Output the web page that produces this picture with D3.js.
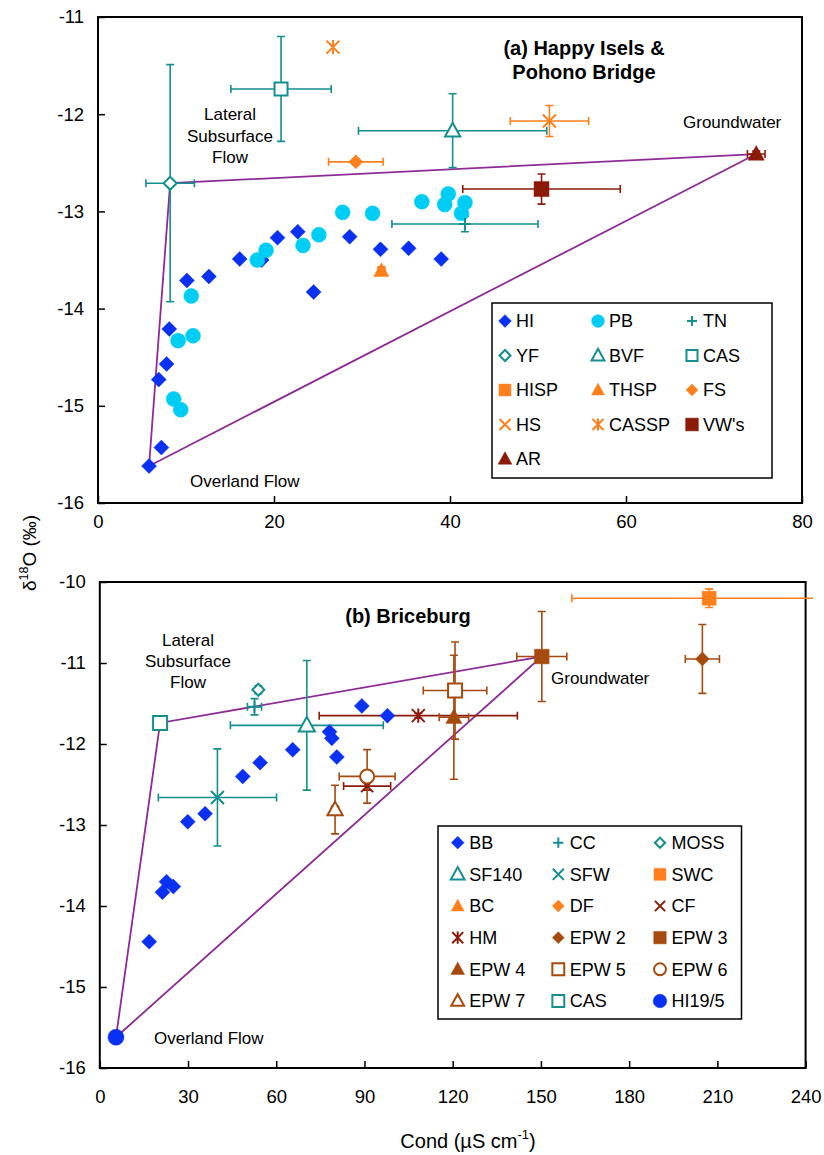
<!DOCTYPE html>
<html>
<head>
<meta charset="utf-8">
<script src="https://cdn.jsdelivr.net/npm/d3@7"></script>
<style>
  body { margin: 0; background: #fff; }
  text { font-family: "Liberation Sans", Arial, sans-serif; }
</style>
</head>
<body>
<svg id="chart" width="824" height="1155"></svg>
<script>
// ---- data: [cond, d18O] or [cond, d18O, condErr, d18OErr]

// (a) Happy Isles & Pohono Bridge
const hiA = [
  [5.8, -15.62], [7.2, -15.43], [6.9, -14.73], [7.8, -14.57], [8.1, -14.21],
  [10.1, -13.71], [12.6, -13.67], [16.1, -13.49], [18.6, -13.5], [20.4, -13.27],
  [22.7, -13.21], [24.5, -13.83], [28.6, -13.26], [32.1, -13.39], [35.3, -13.38], [39.0, -13.49]
]
const pbA = [
  [10.6, -13.87], [9.1, -14.33], [10.8, -14.28], [8.6, -14.93], [9.4, -15.04],
  [18.1, -13.5], [19.1, -13.4], [23.3, -13.35], [25.1, -13.24], [27.8, -13.01],
  [31.2, -13.02], [36.8, -12.9], [39.4, -12.93], [39.8, -12.82], [41.7, -12.91], [41.3, -13.02]
]
const tnA = [[41.7, -13.13, 8.3, 0.08]]
const yfA = [[8.2, -12.71, 2.75, 1.22]]
const bvfA = [[40.3, -12.17, 10.7, 0.38]]
const casA = [[20.8, -11.74, 5.7, 0.54]]
const hispA = []
const thspA = [[32.2, -13.61, 0.4, 0.04]]
const fsA = [[29.3, -12.49, 3.1, 0.03]]
const hsA = [[51.3, -12.07, 4.45, 0.16]]
const casspA = [[26.7, -11.31]]
const vwA = [[50.4, -12.77, 8.95, 0.155]]
const arA = [[74.8, -12.41, 1.0, 0.03]]

// (b) Briceburg
const bbB = [
  [89.1, -11.53], [97.8, -11.65], [78.1, -11.85], [78.9, -11.93], [80.6, -12.16],
  [65.6, -12.07], [54.5, -12.23], [48.6, -12.4], [35.8, -12.86], [29.9, -12.96],
  [22.7, -13.7], [25.0, -13.76], [21.3, -13.83], [16.8, -14.44]
]
const ccB = [[52.6, -11.54, 2.4, 0.1]]
const mossB = [[53.9, -11.33, 0.8, 0.05]]
const sf140B = [[70.4, -11.77, 26, 0.8]]
const sfwB = [[40.0, -12.66, 20.1, 0.6]]
const swcB = [[207.2, -10.2, 46.7, 0.115]]
const bcB = []
const dfB = []
const cfB = [[90.9, -12.52, 8.0, 0.05]]
const hmB = [[108.3, -11.65, 33.7, 0.03]]
const epw2B = [[204.9, -10.95, 5.8, 0.425]]
const epw3B = [[150.3, -10.92, 8.5, 0.555]]
const epw4B = [[120.4, -11.67, 5.0, 0.765]]
const epw5B = [[120.8, -11.34, 10.8, 0.6]]
const epw6B = [[90.9, -12.4, 9.5, 0.33]]
const epw7B = [[80.0, -12.81, 1.2, 0.3]]
const casB = [[20.5, -11.74]]
const hi195B = [[5.5, -15.62]]

// tick values
const xTicksA = [0, 20, 40, 60, 80]
const yTicksA = [-16, -15, -14, -13, -12, -11]
const xTicksB = [0, 30, 60, 90, 120, 150, 180, 210, 240]
const yTicksB = [-16, -15, -14, -13, -12, -11, -10]

// ---- styling
const BLUE = "#0a30f2", CYAN = "#00cdf3", TEAL = "#138f8f", ORANGE = "#ff7f1c"
const DKRED = "#8c1a08", BROWN = "#a64a0e", PURPLE = "#8f2b97"

const seriesA = [
  { name: "HI", pts: hiA, shape: "diamond", color: BLUE, fill: true, r: 7.5 },
  { name: "PB", pts: pbA, shape: "circle", color: CYAN, fill: true, r: 7.5 },
  { name: "TN", pts: tnA, shape: "plus", color: TEAL, r: 6 },
  { name: "YF", pts: yfA, shape: "diamond", color: TEAL, fill: false, r: 6.5 },
  { name: "BVF", pts: bvfA, shape: "triangle", color: TEAL, fill: false, r: 8 },
  { name: "CAS", pts: casA, shape: "square", color: TEAL, fill: false, r: 6.5 },
  { name: "HISP", pts: hispA, shape: "square", color: ORANGE, fill: true, r: 7 },
  { name: "THSP", pts: thspA, shape: "triangle", color: ORANGE, fill: true, r: 8 },
  { name: "FS", pts: fsA, shape: "diamond", color: ORANGE, fill: true, r: 7 },
  { name: "HS", pts: hsA, shape: "x", color: ORANGE, r: 6.5 },
  { name: "CASSP", pts: casspA, shape: "asterisk", color: ORANGE, r: 6.5 },
  { name: "VW's", pts: vwA, shape: "square", color: DKRED, fill: true, r: 7.5 },
  { name: "AR", pts: arA, shape: "triangle", color: DKRED, fill: true, r: 8.5 },
]

const seriesB = [
  { name: "BB", pts: bbB, shape: "diamond", color: BLUE, fill: true, r: 7.5 },
  { name: "CC", pts: ccB, shape: "plus", color: TEAL, r: 6 },
  { name: "MOSS", pts: mossB, shape: "diamond", color: TEAL, fill: false, r: 6 },
  { name: "SF140", pts: sf140B, shape: "triangle", color: TEAL, fill: false, r: 8.5 },
  { name: "SFW", pts: sfwB, shape: "x", color: TEAL, r: 6.5 },
  { name: "SWC", pts: swcB, shape: "square", color: ORANGE, fill: true, r: 7 },
  { name: "BC", pts: bcB, shape: "triangle", color: ORANGE, fill: true, r: 8 },
  { name: "DF", pts: dfB, shape: "diamond", color: ORANGE, fill: true, r: 7 },
  { name: "CF", pts: cfB, shape: "x", color: DKRED, r: 6 },
  { name: "HM", pts: hmB, shape: "asterisk", color: DKRED, r: 6.5 },
  { name: "EPW 2", pts: epw2B, shape: "diamond", color: BROWN, fill: true, r: 7 },
  { name: "EPW 3", pts: epw3B, shape: "square", color: BROWN, fill: true, r: 7.3 },
  { name: "EPW 4", pts: epw4B, shape: "triangle", color: BROWN, fill: true, r: 8.5 },
  { name: "EPW 5", pts: epw5B, shape: "square", color: BROWN, fill: false, r: 7 },
  { name: "EPW 6", pts: epw6B, shape: "circle", color: BROWN, fill: false, r: 7 },
  { name: "EPW 7", pts: epw7B, shape: "triangle", color: BROWN, fill: false, r: 8 },
  { name: "CAS", pts: casB, shape: "square", color: TEAL, fill: false, r: 7 },
  { name: "HI19/5", pts: hi195B, shape: "circle", color: BLUE, fill: true, r: 8 },
]

const svg = d3.select("#chart")

function symbolPath(shape, r) {
  switch (shape) {
    case "diamond": return `M0,${-r}L${r},0L0,${r}L${-r},0Z`
    case "square": return `M${-r},${-r}H${r}V${r}H${-r}Z`
    case "triangle": return `M0,${-r}L${r * 0.95},${r * 0.72}L${-r * 0.95},${r * 0.72}Z`
    case "circle": return `M${r},0A${r},${r},0,1,1,${-r},0A${r},${r},0,1,1,${r},0Z`
    case "plus": return `M${-r},0H${r}M0,${-r}V${r}`
    case "x": return `M${-r},${-r}L${r},${r}M${-r},${r}L${r},${-r}`
    case "asterisk": return `M${-r},${-r}L${r},${r}M${-r},${r}L${r},${-r}M0,${-r * 1.1}V${r * 1.1}`
  }
}

function styleMarker(sel, s) {
  const lineOnly = ["plus", "x", "asterisk"].includes(s.shape)
  sel
    .attr("fill", lineOnly ? "none" : s.fill ? s.color : "#fff")
    .attr("stroke", s.color)
    .attr("stroke-width", lineOnly || !s.fill ? 2 : 0.5)
}

function drawPanel(p) {
  const x = d3.scaleLinear().domain([p.xTicks[0], p.xTicks[p.xTicks.length - 1]]).range([p.left, p.right])
  const y = d3.scaleLinear().domain([p.yTicks[0], p.yTicks[p.yTicks.length - 1]]).range([p.bottom, p.top])
  const g = svg.append("g")

  const xAxis = g.append("g")
    .attr("transform", `translate(0,${p.bottom})`)
    .call(d3.axisBottom(x).tickValues(p.xTicks).tickSizeInner(-7).tickSizeOuter(0)
      .tickPadding(p.xPad).tickFormat((d) => String(d)))
  const yAxis = g.append("g")
    .attr("transform", `translate(${p.left},0)`)
    .call(d3.axisLeft(y).tickValues(p.yTicks).tickSizeInner(-7).tickSizeOuter(0)
      .tickPadding(14).tickFormat((d) => String(d)))
  ;[xAxis, yAxis].forEach((a) => {
    a.select(".domain").remove()
    a.attr("font-size", 18.5).attr("font-family", '"Liberation Sans", Arial, sans-serif')
    a.selectAll("line").attr("stroke-width", 1.5)
    a.selectAll("text").attr("fill", "#000")
  })

  g.append("rect")
    .attr("x", p.left).attr("y", p.top)
    .attr("width", p.right - p.left).attr("height", p.bottom - p.top)
    .attr("fill", "none").attr("stroke", "#000").attr("stroke-width", 2)

  const clipId = "clip" + p.id
  svg.append("clipPath").attr("id", clipId)
    .append("rect").attr("x", 0).attr("y", p.top - 20)
    .attr("width", p.clipRight).attr("height", p.bottom - p.top + 40)
  const plot = g.append("g").attr("clip-path", `url(#${clipId})`)

  // mixing triangle between end members
  plot.append("path")
    .datum([...p.mix, p.mix[0]])
    .attr("d", d3.line().x((d) => x(d[0])).y((d) => y(d[1])))
    .attr("fill", "none").attr("stroke", PURPLE).attr("stroke-width", 1.8)

  // error bars
  const cap = 4
  p.series.forEach((s) => {
    s.pts.filter((d) => d.length > 2).forEach((d) => {
      const eb = plot.append("g").attr("stroke", s.color).attr("stroke-width", 1.6).attr("fill", "none")
      const cx = x(d[0]), cy = y(d[1])
      if (d[2] > 0) {
        const x0 = x(d[0] - d[2]), x1 = x(d[0] + d[2])
        eb.append("path").attr("d", `M${x0},${cy}H${x1}M${x0},${cy - cap}V${cy + cap}M${x1},${cy - cap}V${cy + cap}`)
      }
      if (d[3] > 0) {
        const y0 = y(d[1] - d[3]), y1 = y(d[1] + d[3])
        eb.append("path").attr("d", `M${cx},${y0}V${y1}M${cx - cap},${y0}H${cx + cap}M${cx - cap},${y1}H${cx + cap}`)
      }
    })
  })

  // markers
  p.series.forEach((s) => {
    plot.selectAll(null)
      .data(s.pts)
      .join("path")
      .attr("transform", (d) => `translate(${x(d[0])},${y(d[1])})`)
      .attr("d", symbolPath(s.shape, s.r))
      .call(styleMarker, s)
  })

  // legend
  const lg = p.legend
  g.append("rect")
    .attr("x", lg.x).attr("y", lg.y).attr("width", lg.w).attr("height", lg.h)
    .attr("fill", "#fff").attr("stroke", "#000").attr("stroke-width", 1.5)
  const items = g.selectAll(null)
    .data(p.series)
    .join("g")
    .attr("transform", (s, i) => `translate(${lg.x + lg.colX[i % 3]},${lg.y + lg.row0 + Math.floor(i / 3) * lg.rowStep})`)
  items.append("path")
    .attr("d", (s) => symbolPath(s.shape, s.r * 0.85))
    .each(function (s) { d3.select(this).call(styleMarker, s) })
  items.append("text")
    .attr("x", lg.textDx).attr("dy", "0.35em")
    .attr("font-size", 18).text((s) => s.name)

  // annotations
  p.notes.forEach((n) => {
    const t = g.append("text")
      .attr("x", n.x).attr("y", n.y)
      .attr("text-anchor", n.anchor || "start")
      .attr("font-size", n.bold ? 20 : 17)
      .attr("font-weight", n.bold ? "bold" : "normal")
    n.lines.forEach((line, i) => {
      t.append("tspan").attr("x", n.x).attr("dy", i === 0 ? 0 : n.lh).text(line)
    })
  })
}

drawPanel({
  id: "A", left: 98, right: 802, top: 17, bottom: 503, xPad: 12, clipRight: 824,
  xTicks: xTicksA, yTicks: yTicksA, series: seriesA,
  mix: [hiA[0], yfA[0], arA[0]],
  legend: { x: 492, y: 303, w: 280, h: 175, row0: 18, rowStep: 34.5, colX: [13, 106, 200], textDx: 11 },
  notes: [
    { x: 584, y: 55, lines: ["(a) Happy Isels &", "Pohono Bridge"], lh: 24, anchor: "middle", bold: true },
    { x: 230, y: 120, lines: ["Lateral", "Subsurface", "Flow"], lh: 21.5, anchor: "middle" },
    { x: 683, y: 128, lines: ["Groundwater"] },
    { x: 190, y: 487, lines: ["Overland Flow"] },
  ],
})

drawPanel({
  id: "B", left: 99.8, right: 805.6, top: 582, bottom: 1068, xPad: 22, clipRight: 813,
  xTicks: xTicksB, yTicks: yTicksB, series: seriesB,
  mix: [hi195B[0], casB[0], epw3B[0]],
  legend: { x: 438, y: 826, w: 303.5, h: 193, row0: 16.7, rowStep: 31.65, colX: [19.7, 120.3, 222], textDx: 11.5 },
  notes: [
    { x: 408, y: 623, lines: ["(b) Briceburg"], anchor: "middle", bold: true },
    { x: 188, y: 646, lines: ["Lateral", "Subsurface", "Flow"], lh: 21, anchor: "middle" },
    { x: 551, y: 684, lines: ["Groundwater"] },
    { x: 154, y: 1044, lines: ["Overland Flow"] },
  ],
})

// axis titles
const yLab = svg.append("text")
  .attr("transform", "translate(36,553) rotate(-90)")
  .attr("text-anchor", "middle").attr("font-size", 19)
yLab.append("tspan").text("δ")
yLab.append("tspan").attr("font-size", 12.5).attr("dy", -8).text("18")
yLab.append("tspan").attr("dy", 8).text("O (‰)")

const xLab = svg.append("text")
  .attr("x", 468).attr("y", 1148)
  .attr("text-anchor", "middle").attr("font-size", 20)
xLab.append("tspan").text("Cond (µS cm")
xLab.append("tspan").attr("font-size", 13).attr("dy", -9).text("-1")
xLab.append("tspan").attr("dy", 9).text(")")
</script>
</body>
</html>
